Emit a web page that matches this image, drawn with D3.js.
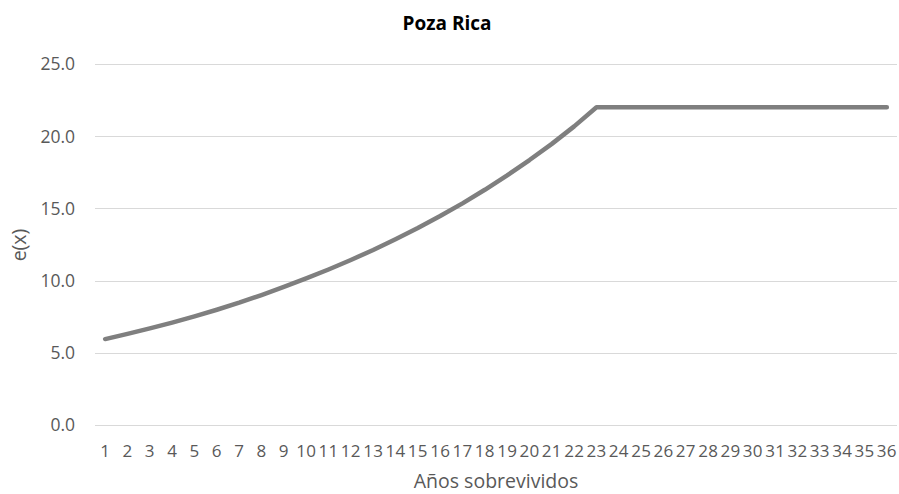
<!DOCTYPE html>
<html>
<head>
  <meta charset="utf-8">
  <script src="https://d3js.org/d3.v7.min.js"></script>
  <style>
    body { margin: 0; background: #fff; }
    text { font-family: "Open Sans", Lato, sans-serif; fill: #595959; }
    .title { fill: #000; font-weight: bold; font-size: 19px; }
    .axis-title { font-size: 19.5px; }
  </style>
</head>
<body>
  <div id="container"></div>
  <script>
    var w = 899, h = 494;

    // data
    var years = d3.range(1, 37).map(String);
    var ex = [5.95, 6.31, 6.69, 7.09, 7.52, 7.98, 8.47, 9.00, 9.56, 10.15, 10.77, 11.43,
              12.12, 12.86, 13.64, 14.47, 15.35, 16.29, 17.29, 18.35, 19.47, 20.68, 22.0,
              22.0, 22.0, 22.0, 22.0, 22.0, 22.0, 22.0, 22.0, 22.0, 22.0, 22.0, 22.0, 22.0];
    var yTicks = [0, 5, 10, 15, 20, 25];

    var svg = d3.select("#container").append("svg")
        .attr("width", w)
        .attr("height", h);

    var x = d3.scalePoint().domain(years).range([94, 898]).padding(0.5);
    var y = d3.scaleLinear().domain([0, 25]).range([425, 64]);

    // gridlines
    svg.append("g").selectAll("line")
        .data(yTicks)
      .enter().append("line")
        .attr("x1", 95).attr("x2", 897)
        .attr("y1", function(d) { return Math.round(y(d)) + 0.5; })
        .attr("y2", function(d) { return Math.round(y(d)) + 0.5; })
        .style("stroke", "#d9d9d9")
        .style("stroke-width", 1.2);

    // y tick labels
    svg.append("g").selectAll("text")
        .data(yTicks)
      .enter().append("text")
        .attr("x", 75)
        .attr("y", function(d) { return y(d); })
        .attr("dy", "0.36em")
        .attr("text-anchor", "end")
        .style("font-size", "17.5px")
        .text(function(d) { return d3.format(".1f")(d); });

    // x tick labels
    svg.append("g").selectAll("text")
        .data(years)
      .enter().append("text")
        .attr("x", function(d) { return x(d); })
        .attr("y", 457)
        .attr("text-anchor", "middle")
        .style("font-size", "17px")
        .style("letter-spacing", "0.3px")
        .text(function(d) { return d; });

    var line = d3.line()
        .x(function(d, i) { return x(years[i]); })
        .y(function(d) { return y(d); });

    svg.append("path")
        .datum(ex)
        .attr("d", line)
        .style("fill", "none")
        .style("stroke", "#7f7f7f")
        .style("stroke-width", 4.5)
        .style("stroke-linecap", "round")
        .style("stroke-linejoin", "round");

    svg.append("text")
        .attr("class", "title")
        .attr("x", 447)
        .attr("y", 30)
        .attr("text-anchor", "middle")
        .text("Poza Rica");

    svg.append("text")
        .attr("class", "axis-title")
        .attr("x", 496)
        .attr("y", 488)
        .attr("text-anchor", "middle")
        .text("Años sobrevividos");

    svg.append("text")
        .attr("class", "axis-title")
        .attr("transform", "translate(26,245) rotate(-90)")
        .attr("text-anchor", "middle")
        .text("e(x)");
  </script>
</body>
</html>
